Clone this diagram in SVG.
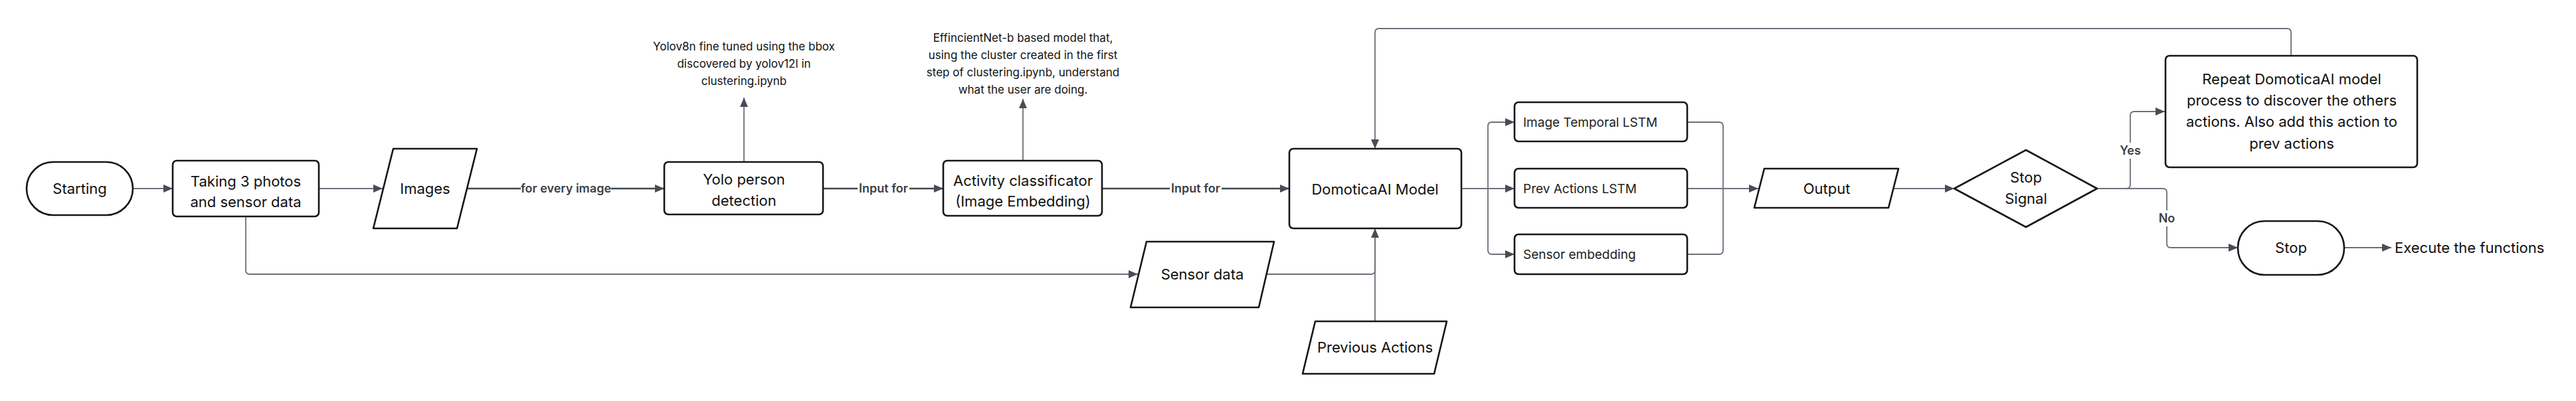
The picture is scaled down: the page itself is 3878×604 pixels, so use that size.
<svg xmlns="http://www.w3.org/2000/svg" width="3878" height="604" viewBox="0 0 3878 604">
<style>
.n{fill:#fff;stroke:#161616;stroke-width:2.6;stroke-linejoin:round}
.t{font-family:Inter,"Liberation Sans",sans-serif;font-size:22px;fill:#111;text-anchor:middle}
.s{font-family:Inter,"Liberation Sans",sans-serif;font-size:19px;fill:#222}
.a{font-family:Inter,"Liberation Sans",sans-serif;font-size:17px;fill:#111;text-anchor:middle}
.l{font-family:Inter,"Liberation Sans",sans-serif;font-size:18px;font-weight:600;fill:#3a3f47;text-anchor:middle}
.c{fill:none;stroke:#40454d;stroke-width:2.4;stroke-linejoin:round}
.g{fill:none;stroke:#6b7079;stroke-width:1.8;stroke-linejoin:round}
.bg{fill:#fff}
</style>
<defs>
<marker id="ar" viewBox="0 0 14 12" refX="14" refY="6" markerWidth="14" markerHeight="12" markerUnits="userSpaceOnUse" orient="auto">
<path d="M0,0 L14,6 L0,12 Z" fill="#474c55"/>
</marker>
</defs>
<g id="connectors">
<path class="g" d="M200,284 H260" marker-end="url(#ar)"/>
<path class="g" d="M480,284 H576" marker-end="url(#ar)"/>
<path class="c" d="M703,284 H1000" marker-end="url(#ar)"/>
<path class="c" d="M1239,284 H1420" marker-end="url(#ar)"/>
<path class="c" d="M1659,284 H1941" marker-end="url(#ar)"/>
<path class="g" d="M1120,244 V147" marker-end="url(#ar)"/>
<path class="g" d="M1540,242 V149" marker-end="url(#ar)"/>
<path class="g" d="M370,326 V407 Q370,413 376,413 H1713" marker-end="url(#ar)"/>
<path class="g" d="M1906,413 H2064 Q2070,413 2070,407 V344"/>
<path class="g" d="M2070,484 V344" marker-end="url(#ar)"/>
<path class="g" d="M2200,284 H2240"/>
<path class="g" d="M2240,284 V190 Q2240,184 2246,184 H2280" marker-end="url(#ar)"/>
<path class="g" d="M2240,284 H2280" marker-end="url(#ar)"/>
<path class="g" d="M2240,284 V377 Q2240,383 2246,383 H2280" marker-end="url(#ar)"/>
<path class="g" d="M2540,184 H2588 Q2594,184 2594,190 V284"/>
<path class="g" d="M2540,383 H2588 Q2594,383 2594,377 V284"/>
<path class="g" d="M2540,284 H2647" marker-end="url(#ar)"/>
<path class="g" d="M2850,284 H2942" marker-end="url(#ar)"/>
<path class="g" d="M3157,284 H3201 Q3207,284 3207,278 V174 Q3207,168 3213,168 H3259" marker-end="url(#ar)"/>
<path class="g" d="M3157,284 H3256 Q3262,284 3262,290 V367 Q3262,373 3268,373 H3369" marker-end="url(#ar)"/>
<path class="g" d="M3449,84 V49 Q3449,43 3443,43 H2076 Q2070,43 2070,49 V224" marker-end="url(#ar)"/>
<path class="g" d="M3529,373 H3600" marker-end="url(#ar)"/>
<rect class="bg" x="784" y="272" width="136" height="24"/>
<text class="l" x="852" y="290">for every image</text>
<rect class="bg" x="1291" y="272" width="78" height="24"/>
<text class="l" x="1330" y="290">Input for</text>
<rect class="bg" x="1761" y="272" width="78" height="24"/>
<text class="l" x="1800" y="290">Input for</text>
<rect class="bg" x="3190" y="215" width="34" height="24"/>
<text class="l" x="3207" y="233">Yes</text>
<rect class="bg" x="3248" y="317" width="28" height="24"/>
<text class="l" x="3262" y="335">No</text>
</g>
<g id="starting">
<rect class="n" x="40" y="244" width="160" height="80" rx="40"/>
<text class="t" x="120" y="292">Starting</text>
</g>
<g id="taking">
<rect class="n" x="260" y="242" width="220" height="84" rx="6"/>
<text class="t" x="370" y="281">Taking 3 photos</text>
<text class="t" x="370" y="312">and sensor data</text>
</g>
<g id="images">
<path class="n" d="M592,224 H718 L688,344 H562 Z"/>
<text class="t" x="640" y="292">Images</text>
</g>
<g id="yolo">
<rect class="n" x="1000" y="244" width="239" height="79" rx="6"/>
<text class="t" x="1120" y="278">Yolo person</text>
<text class="t" x="1120" y="310">detection</text>
</g>
<g id="yolo-note">
<text class="a" x="1120" y="76">Yolov8n fine tuned using the bbox</text>
<text class="a" x="1120" y="102">discovered by yolov12l in</text>
<text class="a" x="1120" y="128">clustering.ipynb</text>
</g>
<g id="activity">
<rect class="n" x="1420" y="242" width="239" height="83" rx="6"/>
<text class="t" x="1540" y="280">Activity classificator</text>
<text class="t" x="1540" y="311">(Image Embedding)</text>
</g>
<g id="activity-note">
<text class="a" x="1540" y="63">EffincientNet-b based model that,</text>
<text class="a" x="1540" y="89">using the cluster created in the first</text>
<text class="a" x="1540" y="115">step of clustering.ipynb, understand</text>
<text class="a" x="1540" y="141">what the user are doing.</text>
</g>
<g id="sensor-data">
<path class="n" d="M1726,364 H1918 L1895,463 H1702 Z"/>
<text class="t" x="1810" y="421">Sensor data</text>
</g>
<g id="domotica">
<rect class="n" x="1941" y="224" width="259" height="120" rx="6"/>
<text class="t" x="2070" y="293">DomoticaAI Model</text>
</g>
<g id="previous-actions">
<path class="n" d="M1980,484 H2178 L2159,563 H1961 Z"/>
<text class="t" x="2070" y="531">Previous Actions</text>
</g>
<g id="lstm-image">
<rect class="n" x="2280" y="154" width="260" height="59" rx="6"/>
<text class="s" x="2293" y="191">Image Temporal LSTM</text>
</g>
<g id="lstm-prev">
<rect class="n" x="2280" y="254" width="260" height="59" rx="6"/>
<text class="s" x="2293" y="291">Prev Actions LSTM</text>
</g>
<g id="sensor-embedding">
<rect class="n" x="2280" y="353" width="260" height="60" rx="6"/>
<text class="s" x="2293" y="390">Sensor embedding</text>
</g>
<g id="output">
<path class="n" d="M2656,254 H2858 L2843,313 H2641 Z"/>
<text class="t" x="2750" y="292">Output</text>
</g>
<g id="stop-signal">
<path class="n" d="M2942,284 L3050,226 L3157,284 L3050,342 Z"/>
<text class="t" x="3050" y="275">Stop</text>
<text class="t" x="3050" y="307">Signal</text>
</g>
<g id="repeat">
<rect class="n" x="3260" y="84" width="379" height="168" rx="6"/>
<text class="t" x="3450" y="127">Repeat DomoticaAI model</text>
<text class="t" x="3450" y="159">process to discover the others</text>
<text class="t" x="3450" y="191">actions. Also add this action to</text>
<text class="t" x="3450" y="224">prev actions</text>
</g>
<g id="stop">
<rect class="n" x="3369" y="333" width="160" height="81" rx="40"/>
<text class="t" x="3449" y="381">Stop</text>
</g>
<g id="execute">
<text class="t" x="3605" y="381" style="text-anchor:start">Execute the functions</text>
</g>
</svg>
